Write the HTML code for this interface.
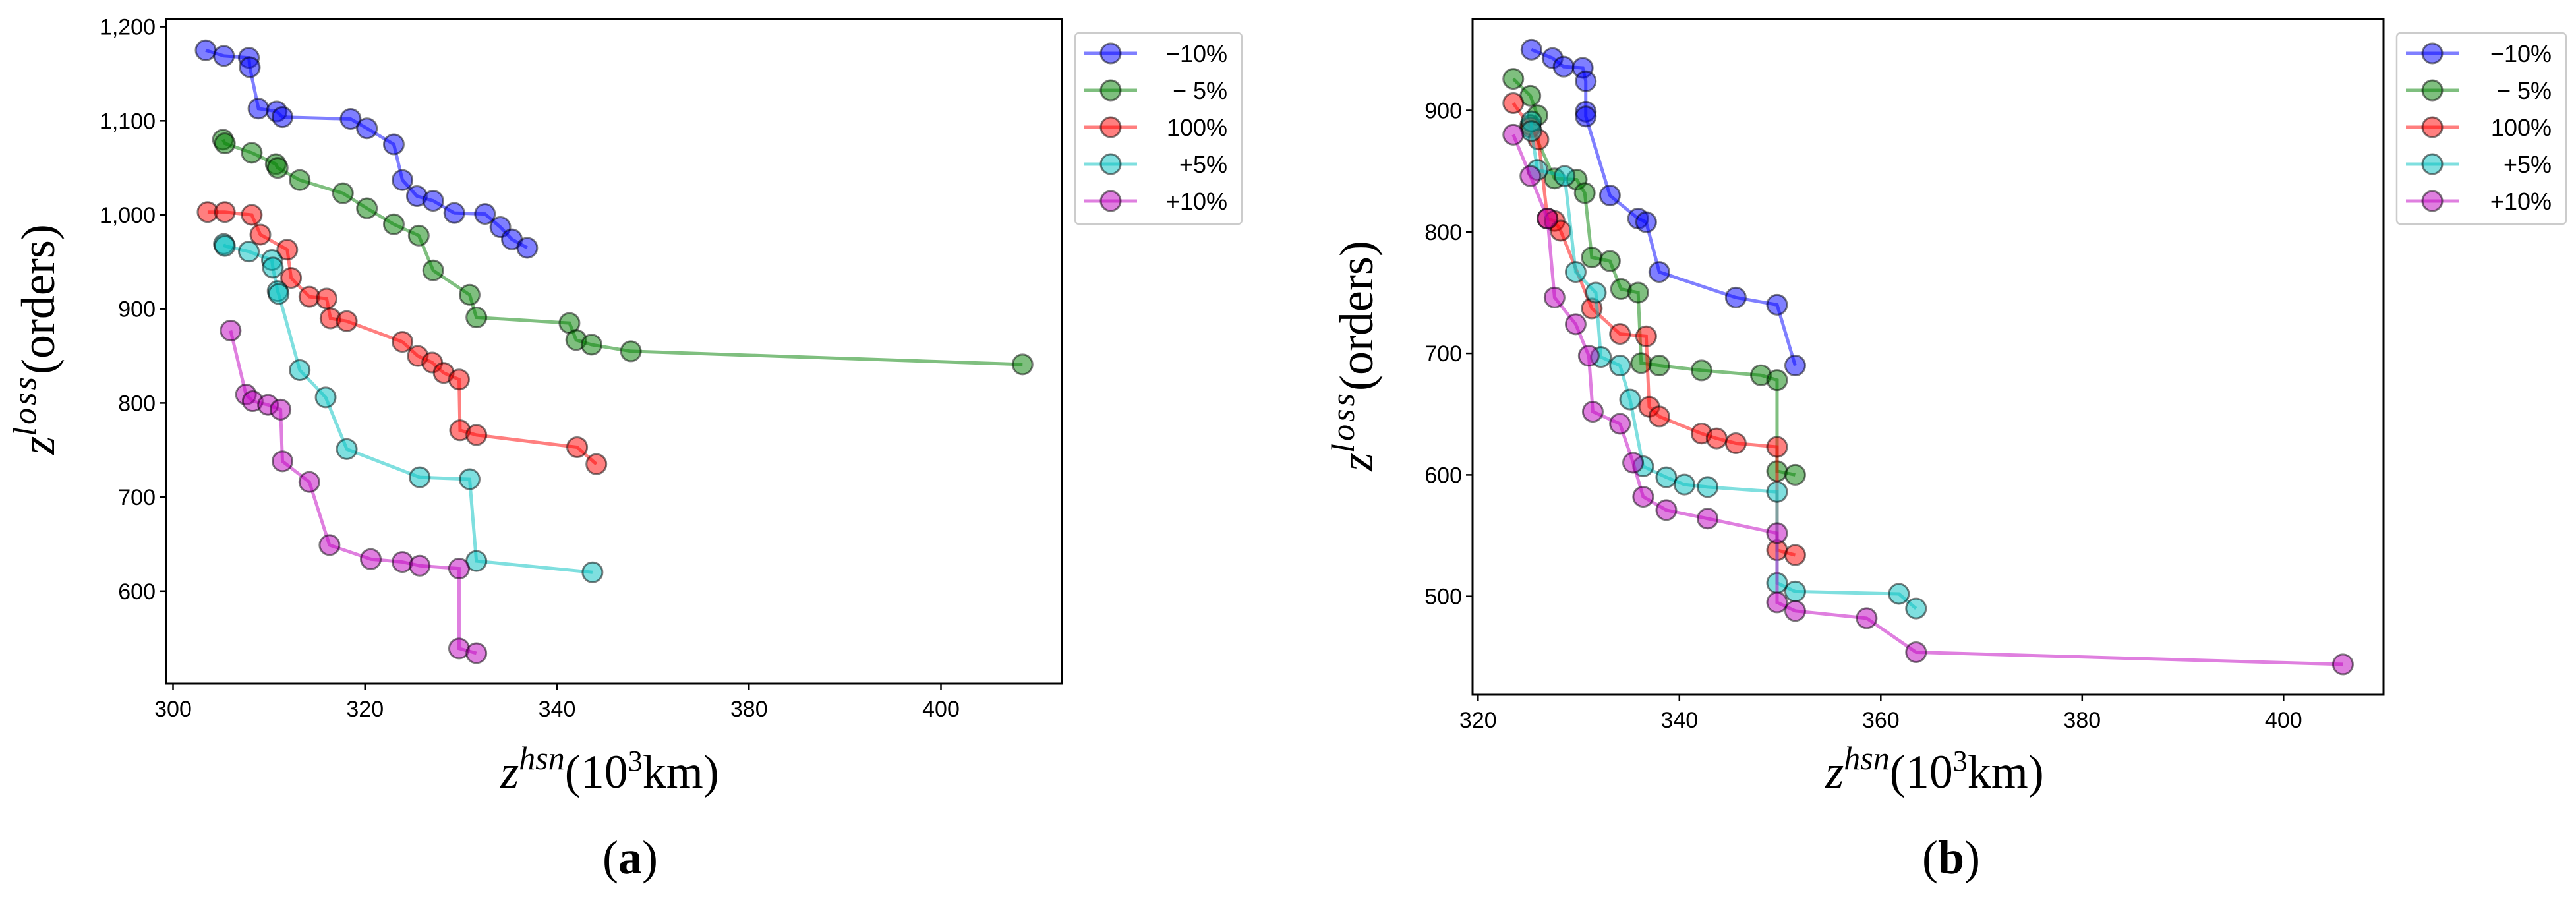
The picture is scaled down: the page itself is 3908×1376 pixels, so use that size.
<!DOCTYPE html>
<html><head><meta charset="utf-8">
<style>
html,body{margin:0;padding:0;background:#fff;}
svg{display:block;}
.tick{font-family:"Liberation Sans",sans-serif;font-size:34px;fill:#000;}
.ax{font-family:"Liberation Serif",serif;font-size:72px;fill:#000;}
.leg{font-family:"Liberation Sans",sans-serif;font-size:36px;fill:#000;}
</style></head>
<body>
<svg id="chart" width="3908" height="1376" viewBox="0 0 3908 1376" xmlns="http://www.w3.org/2000/svg"></svg>
<script>
// ---- shared
const seriesNames = ["\u221210%", "\u2212 5%", "100%", "+5%", "+10%"];
const seriesColors = ["#0000ff", "#008000", "#ff0000", "#00bfbf", "#bf00bf"];

// ---- panel (a)
const aXTicks = [300, 320, 340, 360, 380];
const aXTickLabels = ["300", "320", "340", "380", "400"];
const aYTicks = [600, 700, 800, 900, 1000, 1100, 1200];
const aYTickLabels = ["600", "700", "800", "900", "1,000", "1,100", "1,200"];
const aX0 = [303.4,305.3,307.9,308.0,308.9,310.8,311.4,318.5,320.2,323.0,323.9,325.4,327.1,329.3,332.5,334.1,335.3,336.9];
const aY0 = [1175,1169,1167,1157,1113,1110,1104,1102,1092,1075,1037,1020,1015,1002,1001,987,974,965];
const aX1 = [305.2,305.4,308.2,310.7,310.9,313.2,317.7,320.2,323.0,325.6,327.1,330.9,331.6,341.3,342.0,343.6,347.7,388.5];
const aY1 = [1080,1076,1066,1054,1050,1037,1023,1007,990,978,941,915,891,885,867,862,855,841];
const aX2 = [303.6,305.4,308.2,309.1,311.9,312.3,314.2,316.0,316.4,318.1,323.9,325.5,327.0,328.2,329.8,329.9,331.6,342.1,344.1];
const aY2 = [1003,1003,1000,979,963,933,913,911,890,887,865,850,843,832,825,771,766,753,735];
const aX3 = [305.3,305.4,307.9,310.3,310.4,310.9,311.0,313.2,315.9,318.1,325.7,330.9,331.6,343.7];
const aY3 = [969,967,961,952,944,919,916,835,806,751,721,719,632,620];
const aX4 = [306.0,307.6,308.3,309.9,311.2,311.4,314.2,316.3,320.6,323.9,325.7,329.8,329.8,331.6];
const aY4 = [877,809,802,798,793,738,716,649,634,631,627,624,539,534];

// ---- panel (b)
const bXTicks = [320, 340, 360, 380, 400];
const bXTickLabels = ["320", "340", "360", "380", "400"];
const bYTicks = [500, 600, 700, 800, 900];
const bYTickLabels = ["500", "600", "700", "800", "900"];
const bX0 = [325.3,327.4,328.5,330.4,330.7,330.7,330.7,333.1,335.9,336.7,338.0,345.6,349.7,351.5];
const bY0 = [950,943,936,935,924,899,895,830,811,808,767,746,740,690];
const bX1 = [323.5,325.2,325.9,325.2,327.6,329.8,330.6,331.3,333.1,334.2,335.9,336.2,338.0,342.2,348.1,349.7,349.7,351.5];
const bY1 = [926,912,896,888,844,843,832,779,776,753,750,692,690,686,682,678,603,600];
const bX2 = [323.5,325.2,326.0,326.9,327.6,328.2,331.3,334.1,336.7,337.0,338.0,342.2,343.7,345.6,349.7,349.7,351.5];
const bY2 = [906,886,876,811,809,801,737,716,714,656,648,634,630,626,623,538,534];
const bX3 = [325.3,325.3,325.9,328.6,329.7,331.7,332.2,334.1,335.1,336.4,338.7,340.5,342.8,349.7,349.7,351.5,361.8,363.5];
const bY3 = [891,883,851,846,767,750,697,690,662,607,598,592,590,586,511,504,502,490];
const bX4 = [323.5,325.2,326.9,327.6,329.7,331.0,331.4,334.1,335.4,336.4,338.7,342.8,349.7,349.7,351.5,358.6,363.5,405.9];
const bY4 = [880,846,811,746,724,698,652,642,610,582,571,564,552,495,488,482,454,444];

const NS = "http://www.w3.org/2000/svg";
const svg = document.getElementById("chart");
function mk(tag, attrs, parent) {
  const e = document.createElementNS(NS, tag);
  for (const k in attrs) e.setAttribute(k, attrs[k]);
  (parent || svg).appendChild(e);
  return e;
}

function drawPanel(p) {
  const g = mk("g", {});
  
  
  const sx = v => p.x0px + (v - p.x0v) * p.xpp;
  const sy = v => p.y0px + (p.y0v - v) * p.ypp;
  const box = mk("rect", {x:p.L, y:p.T, width:p.R-p.L, height:p.B-p.T, fill:"none", stroke:"#000", "stroke-width":3}, g);
  
  
  p.xt.forEach((v, i) => {
    const x = sx(v);
    const t = mk("line", {x1:x, x2:x, y1:p.B, y2:p.B+10, stroke:"#000", "stroke-width":2.5}, g);
    
    
    const l = mk("text", {x:x, y:p.B+50, "text-anchor":"middle", class:"tick"}, g);
    
    
    l.textContent = p.xl[i];
  });
  p.yt.forEach((v, i) => {
    const y = sy(v);
    const t = mk("line", {x1:p.L-10, x2:p.L, y1:y, y2:y, stroke:"#000", "stroke-width":2.5}, g);
    
    
    const l = mk("text", {x:p.L-16, y:y+12, "text-anchor":"end", class:"tick"}, g);
    
    
    l.textContent = p.yl[i];
  });
  p.series.forEach((s, k) => {
    const sg = mk("g", {}, g);
    
    
    const pts = s[0].map((xv, i) => sx(xv) + "," + sy(s[1][i])).join(" ");
    const pl = mk("polyline", {points:pts, fill:"none", stroke:seriesColors[k], "stroke-opacity":0.5, "stroke-width":5}, sg);
    
    
    s[0].forEach((xv, i) => {
      const c = mk("circle", {cx:sx(xv), cy:sy(s[1][i]), r:15, fill:seriesColors[k], "fill-opacity":0.5, stroke:"#000", "stroke-opacity":0.5, "stroke-width":3}, sg);
      
      
    });
  });
  const lg = mk("g", {}, g);
  
  
  mk("rect", {x:p.lgL, y:50, width:p.lgW, height:290, rx:6, fill:"#fff", stroke:"#ccc", "stroke-width":2.5}, lg);
  seriesNames.forEach((n, k) => {
    const y = 81 + k * 56;
    const e = mk("g", {}, lg);
    
    
    mk("line", {x1:p.lgL+14, x2:p.lgL+94, y1:y, y2:y, stroke:seriesColors[k], "stroke-opacity":0.5, "stroke-width":5}, e);
    mk("circle", {cx:p.lgL+54, cy:y, r:15, fill:seriesColors[k], "fill-opacity":0.5, stroke:"#000", "stroke-opacity":0.5, "stroke-width":3}, e);
    const t = mk("text", {x:p.lgL+p.lgW-22, y:y+13, "text-anchor":"end", class:"leg"}, e);
    t.textContent = n;
  });
  const xt = mk("text", {x:p.xlx, y:1195, "text-anchor":"middle", class:"ax"}, g);
  
  
  xt.innerHTML = '<tspan font-style="italic">z</tspan><tspan font-style="italic" font-size="50" dy="-28">hsn</tspan><tspan dy="28">(10</tspan><tspan font-size="44" dy="-26">3</tspan><tspan dy="26">km)</tspan>';
  const yt = mk("text", {x:0, y:0, "text-anchor":"middle", class:"ax", transform:"translate(" + p.ylx + "," + p.yly + ") rotate(-90)"}, g);
  
  
  yt.innerHTML = '<tspan font-style="italic">z</tspan><tspan font-style="italic" font-size="50" dy="-28" letter-spacing="4">loss</tspan><tspan dy="28">(orders)</tspan>';
  const cap = mk("text", {x:p.capx, y:1325, "text-anchor":"middle", class:"ax", "font-size":"76"}, g);
  
  
  cap.innerHTML = '(<tspan font-weight="bold">' + p.cap + '</tspan>)';
}

drawPanel({name:"panel-a", L:252, R:1611, T:29, B:1037,
  x0v:300, x0px:262.5, xpp:291.25/20, y0v:1200, y0px:40.6, ypp:142.7/100,
  xt:aXTicks, xl:aXTickLabels, yt:aYTicks, yl:aYTickLabels,
  series:[[aX0,aY0],[aX1,aY1],[aX2,aY2],[aX3,aY3],[aX4,aY4]],
  lgL:1631, lgW:253, xlx:925, ylx:82, yly:515, capx:956, cap:"a"});
drawPanel({name:"panel-b", L:2234, R:3616, T:29, B:1054,
  x0v:320, x0px:2242.3, xpp:305.5/20, y0v:900, y0px:167.5, ypp:184.3/100,
  xt:bXTicks, xl:bXTickLabels, yt:bYTicks, yl:bYTickLabels,
  series:[[bX0,bY0],[bX1,bY1],[bX2,bY2],[bX3,bY3],[bX4,bY4]],
  lgL:3636, lgW:257, xlx:2935, ylx:2082, yly:540, capx:2960, cap:"b"});
</script>
</body></html>
